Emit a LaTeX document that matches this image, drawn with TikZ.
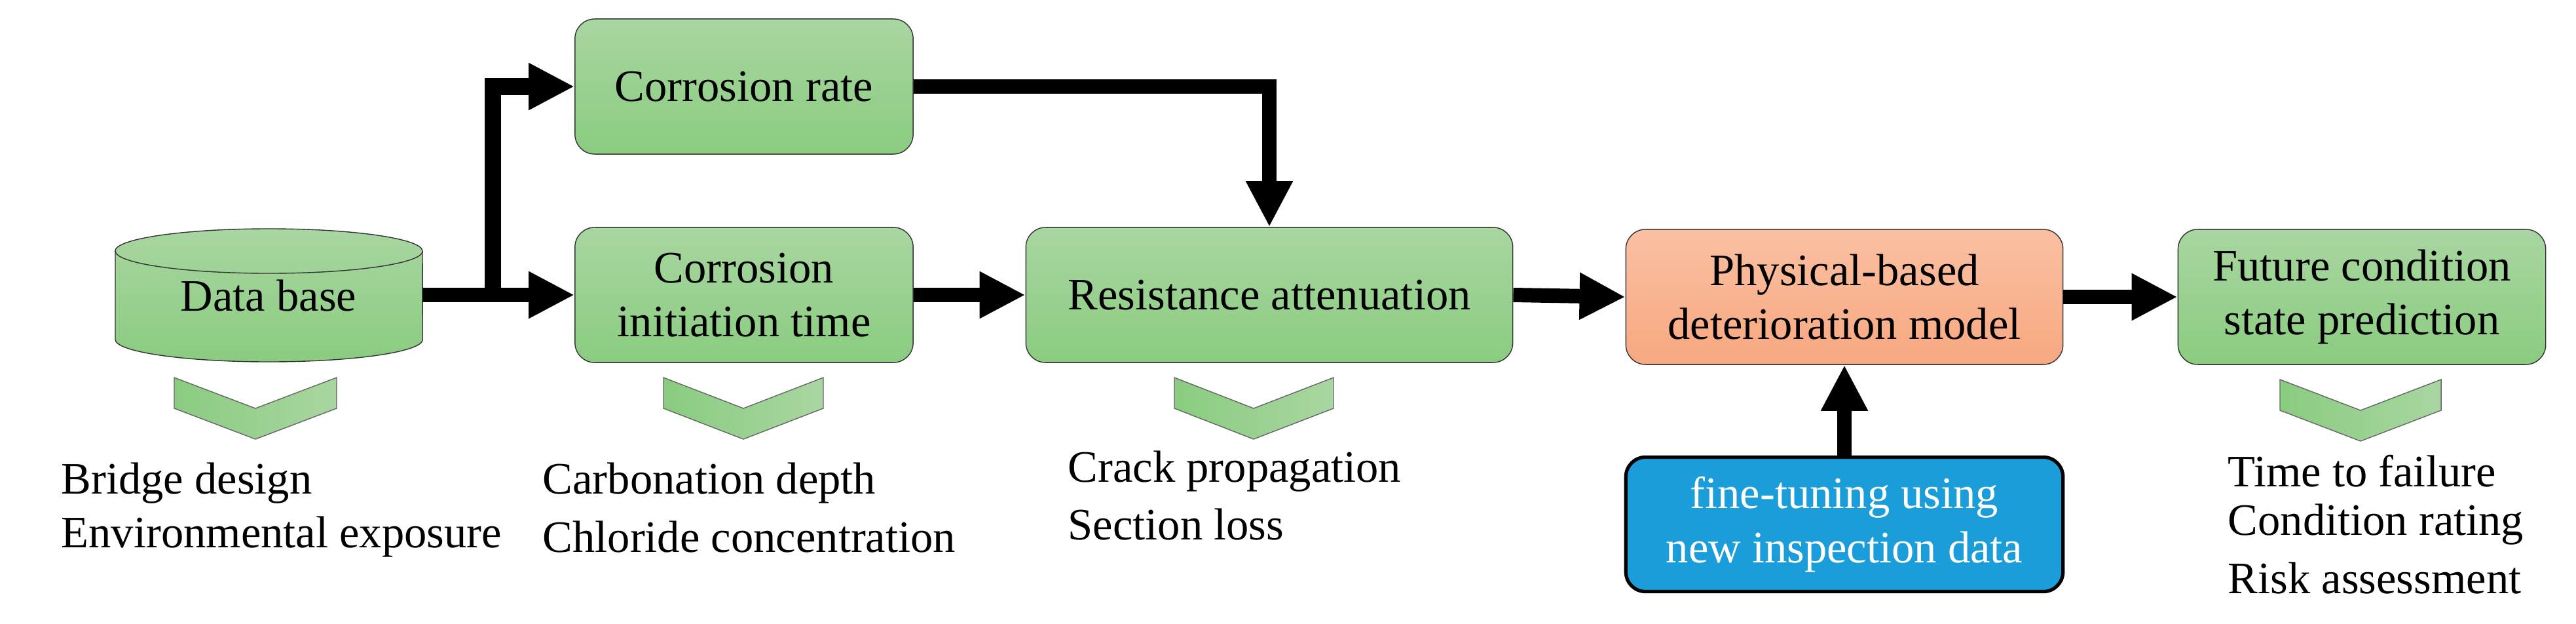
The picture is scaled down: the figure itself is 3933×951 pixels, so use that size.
\documentclass[tikz,border=0pt]{standalone}
\usepackage{fontspec}
\setmainfont{Liberation Serif}
\usetikzlibrary{arrows.meta}
\definecolor{gtop}{RGB}{169,214,161}
\definecolor{gbot}{RGB}{138,204,128}
\definecolor{otop}{RGB}{250,192,162}
\definecolor{obot}{RGB}{247,168,128}
\definecolor{blu}{RGB}{27,157,217}
\begin{document}
\begin{tikzpicture}[x=0.01cm,y=-0.01cm,
  txt/.style={font=\fontsize{19.5}{23.5}\selectfont, align=center},
  gbox/.style={txt, draw=black!80, rounded corners=0.3cm, top color=gtop, bottom color=gbot, minimum height=2.06cm, inner sep=2pt},
  arr/.style={line width=0.22cm, -{Triangle[length=0.7cm,width=0.67cm]}},
  chev/.style={draw=black!60, left color=gbot, right color=gtop},
  lab/.style={font=\fontsize{19.5}{23.5}\selectfont, anchor=west, inner sep=0pt}]
\useasboundingbox (0,0) rectangle (3933,951);
% database cylinder
\shade[top color=gtop, bottom color=gbot, draw=black!80]
  (176,383) -- (176,518) arc[start angle=180,end angle=360,x radius=2.345cm,y radius=0.34cm]
  -- (645,383) arc[start angle=0,end angle=180,x radius=2.345cm,y radius=0.34cm] -- cycle;
\draw[black!80] (176,383) arc[start angle=180,end angle=360,x radius=2.345cm,y radius=0.34cm];
\node[txt, minimum width=4.69cm, minimum height=2.03cm, inner sep=0pt] (db) at (410,450) {\raisebox{-0.5cm}{Data base}};
% boxes
\node[gbox, minimum width=5.16cm] (crate) at (1136,132) {Corrosion rate};
\node[gbox, minimum width=5.16cm] (init) at (1136,450) {Corrosion\\initiation time};
\node[gbox, minimum width=7.43cm] (resist) at (1938,450) {Resistance attenuation};
\node[gbox, minimum width=6.67cm, top color=otop, bottom color=obot] (phys) at (2816,453) {Physical-based\\deterioration model};
\node[gbox, minimum width=5.61cm] (fut) at (3606,453) {Future condition\\state prediction};
\node[txt, draw=black, line width=1.5pt, rounded corners=0.3cm, fill=blu, text=white, minimum width=6.67cm, minimum height=2.05cm] (fine) at (2816,800) {fine-tuning using\\new inspection data};
% connectors
\coordinate (br) at (752,450);
\draw[arr] (db.east) -- (init.west);
\draw[line width=0.25cm, -{Triangle[length=0.7cm,width=0.67cm]}] (br) |- (crate.west);
\draw[arr] (crate.east) -| (resist.north);
\draw[arr] (init.east) -- (resist.west);
\draw[arr] (resist.east) -- (phys.west);
\draw[arr] (phys.east) -- (fut.west);
\draw[arr] (fine.north) -- (phys.south);
% chevrons
\shade[chev] (266,576) -- (390,623) -- (514,576) -- (514,623) -- (390,670) -- (266,623) -- cycle;
\shade[chev] (1013,576) -- (1135,623) -- (1257,576) -- (1257,623) -- (1135,670) -- (1013,623) -- cycle;
\shade[chev] (1793,576) -- (1914,623) -- (2036,576) -- (2036,623) -- (1914,670) -- (1793,623) -- cycle;
\shade[chev] (3481,579) -- (3604,626) -- (3727,579) -- (3727,626) -- (3604,673) -- (3481,626) -- cycle;
% labels
\node[lab] (l1) at (93,737) {Bridge design};
\node[lab] (l2) at (93,819) {Environmental exposure};
\node[lab] (l3) at (828,737) {Carbonation depth};
\node[lab] (l4) at (828,819) {Chloride concentration};
\node[lab] (l5) at (1630,719) {Crack propagation};
\node[lab] (l6) at (1630,800) {Section loss};
\node[lab] (l7) at (3401,719) {Time to failure};
\node[lab] (l8) at (3401,800) {Condition rating};
\node[lab] (l9) at (3401,882) {Risk assessment};
\end{tikzpicture}
\end{document}
